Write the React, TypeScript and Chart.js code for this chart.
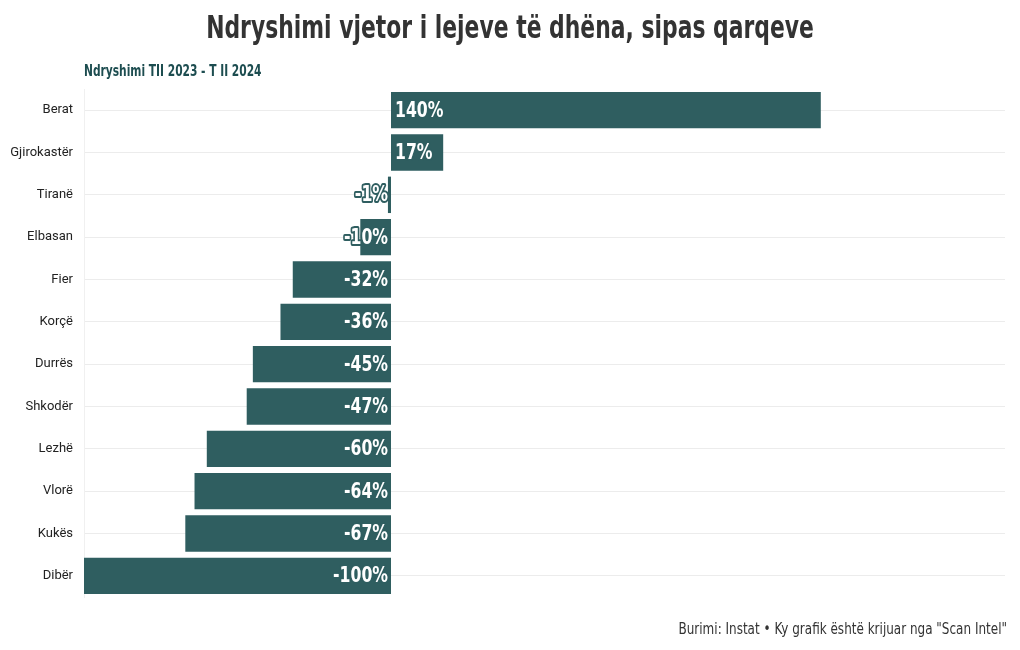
import React, { useEffect, useRef } from "react";
import { Chart, registerables } from "chart.js";

Chart.register(...registerables);

const categories = [
  "Berat", "Gjirokastër", "Tiranë", "Elbasan", "Fier", "Korçë",
  "Durrës", "Shkodër", "Lezhë", "Vlorë", "Kukës", "Dibër",
];
const changes = [140, 17, -1, -10, -32, -36, -45, -47, -60, -64, -67, -100];

const titleText = "Ndryshimi vjetor i lejeve të dhëna, sipas qarqeve";
const subtitleText = "Ndryshimi TII 2023 - T II 2024";
const footerText = 'Burimi: Instat • Ky grafik është krijuar nga "Scan Intel"';

const BAR = "#2f5e60";
const COND = '"DejaVu Sans Condensed", "DejaVu Sans", sans-serif';

function squeezed(ctx: any, text: string, x: number, y: number, factor: number, stroke = false) {
  const w = ctx.measureText(text).width * factor;
  if (stroke) ctx.strokeText(text, x, y, w);
  ctx.fillText(text, x, y, w);
}

const textPlugin = {
  id: "texts",
  afterDraw(chart: any) {
    const ctx = chart.ctx;
    ctx.save();
    // title
    ctx.fillStyle = "#333333";
    ctx.font = `bold 32px ${COND}`;
    ctx.textAlign = "center";
    ctx.textBaseline = "alphabetic";
    squeezed(ctx, titleText, 510, 38, 0.76);
    // subtitle
    ctx.fillStyle = "#1d4d50";
    ctx.font = `bold 15px ${COND}`;
    ctx.textAlign = "left";
    squeezed(ctx, subtitleText, 84, 76, 0.79);
    // footer
    ctx.fillStyle = "#333333";
    ctx.font = `15px ${COND}`;
    ctx.textAlign = "right";
    squeezed(ctx, footerText, 1007, 634, 0.89);
    // bar labels
    const meta = chart.getDatasetMeta(0);
    const xs = chart.scales.x;
    const zero = xs.getPixelForValue(0);
    ctx.font = `bold 21px ${COND}`;
    ctx.textBaseline = "middle";
    ctx.lineJoin = "round";
    meta.data.forEach((bar: any, i: number) => {
      const v = changes[i];
      const label = `${v}%`;
      let x: number;
      if (v >= 0) {
        ctx.textAlign = "left";
        x = zero + 4;
      } else {
        ctx.textAlign = "right";
        x = zero - 3;
      }
      ctx.strokeStyle = BAR;
      ctx.lineWidth = 4;
      ctx.fillStyle = "#ffffff";
      squeezed(ctx, label, x, bar.y + 1, 0.83, true);
    });
    ctx.restore();
  },
};

export default function App() {
  const ref = useRef<HTMLCanvasElement>(null);
  useEffect(() => {
    if (!ref.current) return;
    const chart = new Chart(ref.current, {
      type: "bar",
      data: {
        labels: categories,
        datasets: [
          {
            data: changes,
            backgroundColor: BAR,
            borderWidth: 0,
            barPercentage: 0.86,
            categoryPercentage: 1,
          },
        ],
      },
      options: {
        indexAxis: "y",
        responsive: false,
        animation: false,
        layout: { padding: { top: 89, bottom: 53, right: 15, left: 0 } },
        plugins: {
          legend: { display: false },
          title: { display: false },
          tooltip: { enabled: false },
        },
        scales: {
          x: {
            display: false,
            min: -100,
            max: 200,
          },
          y: {
            afterFit(scale: any) {
              scale.width = 84;
            },
            grid: {
              offset: false,
              color: "#ececec",
              drawTicks: false,
            },
            border: { display: true, color: "#f0f0f0" },
            ticks: {
              padding: 11,
              color: "#222222",
              font: { family: "Roboto, sans-serif", size: 13 },
            },
          },
        },
      },
      plugins: [textPlugin],
    });
    return () => chart.destroy();
  }, []);
  return (
    <div style={{ position: "fixed", left: 0, top: 0, width: 1020, height: 650, background: "#fff" }}>
      <canvas ref={ref} width={1020} height={650} />
    </div>
  );
}
